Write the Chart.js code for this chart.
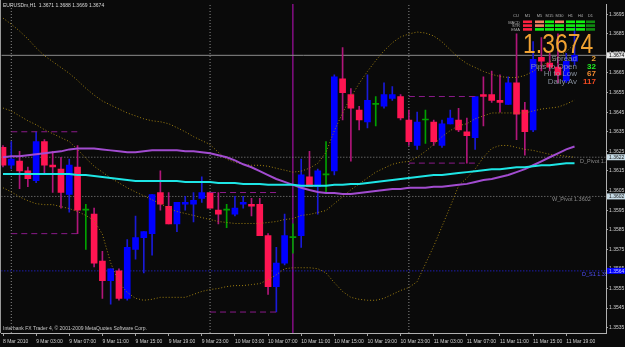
<!DOCTYPE html>
<html><head><meta charset="utf-8">
<script src="https://cdn.jsdelivr.net/npm/chart.js@4.4.0/dist/chart.umd.min.js"></script>
<style>html,body{margin:0;padding:0;background:#0a0a0a;overflow:hidden}canvas{display:block}</style>
</head><body>
<canvas id="c" width="625" height="347"></canvas>
<script>
// ---------- data ----------
const timeLabels = ["8 Mar 2010","9 Mar 03:00","9 Mar 07:00","9 Mar 11:00","9 Mar 15:00","9 Mar 19:00","9 Mar 23:00","10 Mar 03:00","10 Mar 07:00","10 Mar 11:00","10 Mar 15:00","10 Mar 19:00","10 Mar 23:00","11 Mar 03:00","11 Mar 07:00","11 Mar 11:00","11 Mar 15:00","11 Mar 19:00"];
const timeTickBars = [0,4,8,12,16,20,24,28,32,36,40,44,48,52,56,60,64,68];

const opens  = [1.3627,1.3618,1.3620,1.3615,1.3610,1.3630,1.3618,1.3616,1.3603,1.3617,1.3595,1.3593,1.3569,1.3559,1.3564,1.3550,1.3575,1.3581,1.3583,1.3604,1.3597,1.3588,1.3598,1.3598,1.3601,1.3604,1.3595,1.3595,1.3593,1.3598,1.3598,1.3598,1.3582,1.3556,1.3568,1.3581,1.3582,1.3612,1.3607,1.3613,1.3615,1.3662,1.3654,1.3646,1.3640,1.3649,1.3648,1.3652,1.3653,1.3641,1.3628,1.3641,1.3640,1.3628,1.3639,1.3641,1.3635,1.3632,1.3654,1.3654,1.3651,1.3649,1.3660,1.3646,1.3636,1.3673,1.3670,1.3668,1.3661,1.3671];
const highs  = [1.3628,1.3630,1.3625,1.3617,1.3635,1.3631,1.3625,1.3622,1.3621,1.3628,1.3598,1.3596,1.3574,1.3565,1.3565,1.3580,1.3592,1.3584,1.3603,1.3615,1.3604,1.3599,1.3602,1.3604,1.3612,1.3604,1.3604,1.3598,1.3602,1.3602,1.3601,1.3601,1.3583,1.3576,1.3593,1.3588,1.3621,1.3625,1.3616,1.3630,1.3664,1.3678,1.3657,1.3648,1.3664,1.3653,1.3660,1.3658,1.3654,1.3646,1.3645,1.3646,1.3641,1.3641,1.3646,1.3647,1.3642,1.3653,1.3663,1.3666,1.3664,1.3663,1.3685,1.3650,1.3681,1.3683,1.3675,1.3685,1.3675,1.3688];
const lows   = [1.3617,1.3616,1.3606,1.3607,1.3609,1.3614,1.3604,1.3596,1.3594,1.3583,1.3575,1.3566,1.3550,1.3547,1.3549,1.3549,1.3570,1.3563,1.3572,1.3595,1.3588,1.3584,1.3595,1.3589,1.3599,1.3596,1.3588,1.3586,1.3592,1.3596,1.3592,1.3582,1.3552,1.3543,1.3567,1.3573,1.3576,1.3607,1.3593,1.3604,1.3613,1.3641,1.3620,1.3636,1.3637,1.3638,1.3647,1.3651,1.3641,1.3628,1.3626,1.3629,1.3628,1.3627,1.3639,1.3635,1.3619,1.3626,1.3638,1.3650,1.3645,1.3649,1.3631,1.3623,1.3635,1.3666,1.3666,1.3660,1.3660,1.3669];
const closes = [1.3618,1.3621,1.3615,1.3611,1.3630,1.3618,1.3617,1.3604,1.3618,1.3595,1.3595,1.3568,1.3559,1.3565,1.3550,1.3576,1.3581,1.3584,1.3603,1.3598,1.3588,1.3599,1.3599,1.3600,1.3604,1.3596,1.3593,1.3595,1.3596,1.3599,1.3597,1.3582,1.3556,1.3568,1.3582,1.3581,1.3613,1.3607,1.3615,1.3613,1.3663,1.3655,1.3647,1.3641,1.3651,1.3649,1.3654,1.3654,1.3642,1.3630,1.3640,1.3641,1.3630,1.3639,1.3642,1.3636,1.3633,1.3653,1.3653,1.3651,1.3650,1.3660,1.3644,1.3635,1.3672,1.3671,1.3668,1.3664,1.3671,1.3674];

const bbUpper  = [1.36930,1.36899,1.36864,1.36824,1.36778,1.36738,1.36708,1.36678,1.36648,1.36612,1.36572,1.36537,1.36507,1.36486,1.36466,1.36446,1.36431,1.36416,1.36406,1.36401,1.36391,1.36371,1.36350,1.36325,1.36305,1.36285,1.36245,1.36210,1.36194,1.36184,1.36179,1.36179,1.36174,1.36164,1.36154,1.36144,1.36149,1.36164,1.36189,1.36245,1.36355,1.36446,1.36527,1.36597,1.36658,1.36713,1.36763,1.36804,1.36834,1.36849,1.36859,1.36854,1.36839,1.36809,1.36768,1.36728,1.36698,1.36678,1.36658,1.36643,1.36632,1.36627,1.36627,1.36637,1.36658,1.36688,1.36708,1.36728,1.36758,1.36799];
const bbMiddle = [1.36471,1.36456,1.36431,1.36406,1.36386,1.36361,1.36340,1.36320,1.36300,1.36260,1.36215,1.36174,1.36144,1.36114,1.36089,1.36064,1.36043,1.36023,1.36003,1.35983,1.35958,1.35943,1.35933,1.35923,1.35912,1.35902,1.35892,1.35887,1.35882,1.35882,1.35882,1.35882,1.35887,1.35892,1.35902,1.35907,1.35923,1.35928,1.35938,1.35948,1.35983,1.36018,1.36054,1.36084,1.36114,1.36144,1.36164,1.36184,1.36194,1.36199,1.36220,1.36250,1.36285,1.36325,1.36356,1.36381,1.36391,1.36416,1.36431,1.36446,1.36446,1.36446,1.36446,1.36446,1.36456,1.36466,1.36471,1.36476,1.36491,1.36512];
const bbLower  = [1.36064,1.36043,1.36018,1.35998,1.35983,1.35978,1.35978,1.35968,1.35958,1.35943,1.35923,1.35897,1.35827,1.35681,1.35580,1.35530,1.35500,1.35490,1.35495,1.35505,1.35505,1.35505,1.35505,1.35520,1.35535,1.35545,1.35550,1.35560,1.35565,1.35565,1.35570,1.35575,1.35595,1.35620,1.35651,1.35656,1.35656,1.35656,1.35651,1.35630,1.35580,1.35535,1.35505,1.35495,1.35490,1.35490,1.35500,1.35520,1.35540,1.35555,1.35585,1.35676,1.35766,1.35867,1.35968,1.36074,1.36114,1.36159,1.36220,1.36265,1.36280,1.36280,1.36270,1.36260,1.36255,1.36245,1.36235,1.36230,1.36225,1.36220];

const maCyan   = [1.36134,1.36134,1.36134,1.36134,1.36134,1.36134,1.36134,1.36134,1.36134,1.36129,1.36129,1.36124,1.36119,1.36114,1.36109,1.36104,1.36099,1.36099,1.36099,1.36099,1.36099,1.36099,1.36094,1.36094,1.36094,1.36094,1.36089,1.36089,1.36089,1.36084,1.36084,1.36084,1.36079,1.36079,1.36079,1.36079,1.36074,1.36074,1.36074,1.36074,1.36079,1.36079,1.36084,1.36084,1.36089,1.36094,1.36099,1.36104,1.36109,1.36114,1.36119,1.36124,1.36129,1.36129,1.36134,1.36139,1.36144,1.36149,1.36154,1.36159,1.36159,1.36164,1.36169,1.36169,1.36174,1.36179,1.36179,1.36184,1.36189,1.36189];
const maViolet = [1.36220,1.36225,1.36225,1.36230,1.36235,1.36240,1.36245,1.36250,1.36260,1.36265,1.36265,1.36265,1.36260,1.36255,1.36250,1.36245,1.36245,1.36250,1.36255,1.36255,1.36255,1.36255,1.36250,1.36250,1.36245,1.36240,1.36230,1.36220,1.36204,1.36184,1.36169,1.36149,1.36129,1.36109,1.36094,1.36079,1.36064,1.36053,1.36043,1.36038,1.36038,1.36033,1.36033,1.36038,1.36043,1.36048,1.36053,1.36058,1.36058,1.36064,1.36064,1.36064,1.36069,1.36069,1.36074,1.36079,1.36084,1.36094,1.36104,1.36109,1.36119,1.36129,1.36144,1.36159,1.36179,1.36199,1.36220,1.36240,1.36260,1.36275];

const priceTicks = [1.3535,1.3545,1.3555,1.3565,1.3575,1.3585,1.3595,1.3605,1.3615,1.3625,1.3635,1.3645,1.3655,1.3665,1.3675,1.3685,1.3695];
const priceMin = 1.35323, priceMax = 1.37002;
const barMin = -0.2, barMax = 72.8;

const lastPrice = 1.3674;
const pivotLevels = [1.3622, 1.3602, 1.3564];
const pivotNames  = ["D_Pivot 1.3622", "W_Pivot 1.3602", "D_S1 1.3564"];
const daySeparatorBars = [1, 25, 49];
const markerBars = [35];
const sessionStartBars = [1, 25, 49];
const sessionEndBars   = [9, 33, 57];
const sessionHighs = [1.3635, 1.3604, 1.3653];
const sessionLows  = [1.3583, 1.3543, 1.3619];

const headerText = "EURUSDm,H1  1.3671 1.3688 1.3669 1.3674";
const footerText = "Interbank FX Trader 4, \u00a9 2001-2009 MetaQuotes Software Corp.";

const panelColumns = ["CU","M1","M5","M15","M30","H1","H4","D1"];
const panelRows = ["MACD","STR","EMA"];
const panelSignals = [   // 1 = up, -1 = down, 0 = neutral
  [-1, 0, 1, 0, 1, 1, 1],
  [-1, 0, 1, 1, 1, 1, 1],
  [-1, 1, 1, 1, 1, 1, 1]
];
const bigPrice = "1.3674";
const statNames  = ["Spread","Pips to Open","Hi to Low","Daily Av"];
const statValues = ["2","32","67","117"];

// ---------- styles ----------
const FONT = '"Liberation Sans", Arial, sans-serif';
const COL_UP = '#0000ff', COL_DN = '#ff1552', COL_DOJI = '#00a000';
const WICK_UP = '#1a1ad8', WICK_DN = '#b0167a';
const candleColor = (i) => closes[i] > opens[i] ? COL_UP : (closes[i] < opens[i] ? COL_DN : COL_DOJI);
const wickColor = (i) => closes[i] > opens[i] ? WICK_UP : (closes[i] < opens[i] ? WICK_DN : COL_DOJI);

const idx = opens.map((_, i) => i);
function hLine(v){ return [{x: barMin, y: v}, {x: barMax, y: v}]; }
function vLines(bars){ const d=[]; bars.forEach(b=>{ d.push({x:b,y:priceMin},{x:b,y:priceMax},{x:b,y:null}); }); return d; }
function sessionSegs(vals){ const d=[]; vals.forEach((v,k)=>{ d.push({x:sessionStartBars[k],y:v},{x:sessionEndBars[k],y:v},{x:sessionEndBars[k],y:null}); }); return d; }
const line = (data, color, width, dash, order) => ({type:'line', data, borderColor:color, borderWidth:width, borderDash:dash||[], pointRadius:0, tension:0, fill:false, spanGaps:false, order});

const datasets = [
  {type:'bar', data: idx.map(i=>({x:i, y:[lows[i], highs[i]]})), backgroundColor: idx.map(wickColor), barThickness:1, grouped:false, order:20},
  {type:'bar', data: idx.map(i=>({x:i, y:[opens[i], closes[i]]})), backgroundColor: idx.map(candleColor), barThickness:6, minBarLength:1, grouped:false, order:19},
  line(vLines(daySeparatorBars), '#8a8a8a', 1, [1,2], 30),
  line(vLines(markerBars), '#c010c0', 1, [], 29),
  line(hLine(pivotLevels[0]), '#8a8a8a', 1, [1,2], 28),
  line(hLine(pivotLevels[1]), '#8a8a8a', 1, [1,2], 28),
  line(hLine(pivotLevels[2]), '#2828ff', 1, [1,2], 28),
  line(hLine(lastPrice), '#8c8c8c', 1, [], 27),
  line(sessionSegs(sessionHighs), '#8a1a8a', 1, [6,4], 18),
  line(sessionSegs(sessionLows), '#8a1a8a', 1, [6,4], 18),
  line(idx.map(i=>({x:i,y:bbUpper[i]})), '#a08010', 1, [1,2], 10),
  line(idx.map(i=>({x:i,y:bbMiddle[i]})), '#a08010', 1, [1,2], 10),
  line(idx.map(i=>({x:i,y:bbLower[i]})), '#a08010', 1, [1,2], 10),
  line(idx.map(i=>({x:i,y:maViolet[i]})), '#a24cd0', 2, [], 5),
  line(idx.map(i=>({x:i,y:maCyan[i]})), '#1ee6e6', 2, [], 4),
];

const bgPlugin = { id:'bg', beforeDraw(chart){ const c=chart.ctx; c.save(); c.fillStyle='#0a0a0a'; c.fillRect(0,0,chart.width,chart.height); c.restore(); } };

const textPlugin = {
  id:'texts',
  afterDraw(chart){
    const c = chart.ctx, xs = chart.scales.x, ys = chart.scales.y, a = chart.chartArea;
    c.save();
    // left frame
    c.strokeStyle='#9a9a9a'; c.lineWidth=1; c.beginPath(); c.moveTo(0.5,0); c.lineTo(0.5,a.bottom); c.stroke();
    // line labels (clipped to plot)
    c.save(); c.beginPath(); c.rect(a.left,a.top,a.right-a.left,a.bottom-a.top); c.clip();
    c.font = '5.5px '+FONT; c.textBaseline='alphabetic'; c.textAlign='left';
    c.fillStyle='#8a8a8a'; c.fillText(pivotNames[0], 580, ys.getPixelForValue(pivotLevels[0])+6);
    c.fillText(pivotNames[1], 552, ys.getPixelForValue(pivotLevels[1])+5);
    c.fillStyle='#5050ff'; c.fillText(pivotNames[2], 582, ys.getPixelForValue(pivotLevels[2])+5);
    c.restore();
    // header & footer
    c.font = '5px '+FONT; c.fillStyle='#d8d8d8'; c.textAlign='left'; c.textBaseline='alphabetic';
    c.fillText(headerText, 3, 7);
    c.fillStyle='#c8c8c8'; c.fillText(footerText, 3, 330);
    // axis price boxes
    const boxes = [[lastPrice,'#e8e8e8','#000000'],[pivotLevels[0],'#c6dbe6','#202020'],[pivotLevels[1],'#c6dbe6','#202020'],[pivotLevels[2],'#0000ff','#c8c8ff']];
    boxes.forEach(([v,bg,fg])=>{ const y=ys.getPixelForValue(v); c.fillStyle=bg; c.fillRect(a.right+1, y-3, 18, 6); c.fillStyle=fg; c.font='5px '+FONT; c.textBaseline='middle'; c.fillText(v.toFixed(4), a.right+3, y+0.3); });
    // panel
    const colX = [523,535,545,555,566,576,586];
    c.font='4px '+FONT; c.textBaseline='alphabetic'; c.fillStyle='#b0b0b0'; c.textAlign='center';
    c.fillText(panelColumns[0], 516, 17);
    panelColumns.slice(1).forEach((t,k)=>c.fillText(t, colX[k]+4.5, 17));
    c.textAlign='right';
    panelRows.forEach((t,r)=>c.fillText(t, 520, 23.5+r*3.8));
    const sigCol = {'1':'#10f010','0':'#f08060','-1':'#ff2040'};
    panelSignals.forEach((row,r)=>row.forEach((s,k)=>{ c.fillStyle = (k===6? '#108a10' : sigCol[String(s)]); c.fillRect(colX[k], 20.5+r*3.8, 9, 2.6); }));
    // big price
    c.save(); c.translate(523, 53); c.scale(0.85,1); c.font='27px '+FONT; c.fillStyle='#f0a232'; c.textAlign='left'; c.fillText(bigPrice, 0, 0); c.restore();
    // stats
    const statCols = ['#f0a232','#20f020','#f08a30','#f04a20'];
    statNames.forEach((t,k)=>{ const y = 61 + k*7.6; c.font='8px '+FONT; c.textAlign='right'; c.fillStyle='rgba(150,160,175,0.85)'; c.fillText(t, 577, y); c.fillStyle=statCols[k]; c.font='bold 8px '+FONT; c.fillText(statValues[k], 596, y); });
    c.restore();
  }
};

new Chart(document.getElementById('c'), {
  type:'bar',
  data:{datasets},
  options:{
    responsive:false, animation:false, events:[],
    layout:{padding:0},
    plugins:{legend:{display:false}, tooltip:{enabled:false}},
    scales:{
      x:{type:'linear', min:barMin, max:barMax, offset:false, position:'bottom',
         afterBuildTicks(s){ s.ticks = timeTickBars.map(v=>({value:v})); },
         afterFit(s){ s.height = 14; },
         grid:{display:true, drawOnChartArea:false, drawTicks:true, tickLength:3, color:'#a0a0a0', offset:false},
         border:{display:true, color:'#b0b0b0'},
         ticks:{autoSkip:false, maxRotation:0, minRotation:0, align:'start', padding:3, color:'#d0d0d0', font:{family:FONT, size:5},
                callback:(v)=>{ const k = timeTickBars.indexOf(v); return k>=0 ? timeLabels[k] : ''; }}},
      y:{type:'linear', position:'right', min:priceMin, max:priceMax,
         afterBuildTicks(s){ s.ticks = priceTicks.map(v=>({value:v})); },
         afterFit(s){ s.width = 19; },
         grid:{display:true, drawOnChartArea:false, drawTicks:true, tickLength:2, color:'#a0a0a0'},
         border:{display:true, color:'#b0b0b0'},
         ticks:{autoSkip:false, padding:1, color:'#d0d0d0', font:{family:FONT, size:5}, callback:(v)=>Number(v).toFixed(4)}}
    }
  },
  plugins:[bgPlugin, textPlugin]
});
</script>
</body></html>
